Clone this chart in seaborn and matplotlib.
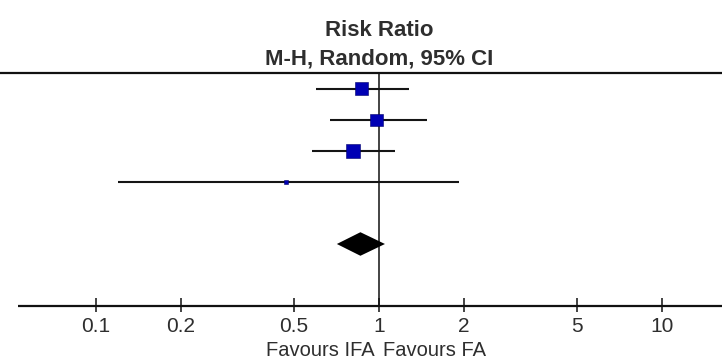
import numpy as np
import pandas as pd
import matplotlib
matplotlib.use("Agg")
import matplotlib.pyplot as plt
import seaborn as sns

# Per-study risk ratios with 95% confidence limits and weights (%)
studies = ["Study A", "Study B", "Study C", "Study D"]
risk_ratio = [0.87, 0.98, 0.81, 0.47]
ci_lower = [0.60, 0.67, 0.58, 0.12]
ci_upper = [1.28, 1.48, 1.14, 1.92]
weight = [29.5, 29.0, 38.5, 3.0]

# Pooled random-effects estimate
pooled_rr = 0.86
pooled_lower = 0.71
pooled_upper = 1.05

tick_values = [0.1, 0.2, 0.5, 1, 2, 5, 10]
tick_labels = ["0.1", "0.2", "0.5", "1", "2", "5", "10"]
header_lines = ["Risk Ratio", "M-H, Random, 95% CI"]
favours_left = "Favours IFA"
favours_right = "Favours FA"

sns.set_style("white")
plt.rcParams["font.family"] = ["Liberation Sans", "DejaVu Sans"]

text_color = "#2e2e2e"
square_color = "#0000b4"

df = pd.DataFrame({
    "study": studies,
    "rr": risk_ratio,
    "lo": ci_lower,
    "hi": ci_upper,
    "weight": weight,
    "row": np.arange(len(studies), dtype=float),
})
pooled_row = len(studies) + 1.0
axis_row = len(studies) + 3.0

fig = plt.figure(figsize=(7.22, 3.63), dpi=100)
ax = fig.add_axes([0, 0, 1, 1])
ax.set_xscale("log")
ax.set_xlim(0.04584, 16.29)
ax.set_ylim(8.839, -2.871)
ax.axis("off")

# Header rule and line of no effect
ax.axhline(-0.5, color="#111111", lw=1.6, zorder=2)
ax.vlines(1, -0.5, axis_row, color="#111111", lw=1.1, zorder=2)

# Confidence intervals
ax.hlines(df["row"], df["lo"], df["hi"], color="#151515", lw=1.5, zorder=3)

# Weighted study squares (area proportional to weight)
size_map = {w: w * 2.97 for w in weight}
sns.scatterplot(data=df, x="rr", y="row", size="weight", sizes=size_map,
                marker="s", color=square_color, edgecolor="#00006a",
                linewidth=0.4, legend=False, ax=ax, zorder=4)

# Pooled estimate diamond
half_h = 0.38
ax.fill([pooled_lower, pooled_rr, pooled_upper, pooled_rr],
        [pooled_row, pooled_row - half_h, pooled_row, pooled_row + half_h],
        color="black", lw=0, zorder=4)

# Bottom scale
ax.hlines(axis_row, 0.053, 16.29, color="#111111", lw=1.6, zorder=2)
ax.vlines(tick_values, axis_row - 0.26, axis_row + 0.2, color="#111111",
          lw=1.1, zorder=2)
for v, lab in zip(tick_values, tick_labels):
    ax.text(v, axis_row + 0.85, lab, ha="center", va="baseline",
            fontsize=15, color=text_color)

ax.text(0.965, axis_row + 1.6, favours_left, ha="right", va="baseline",
        fontsize=14.5, color=text_color)
ax.text(1.035, axis_row + 1.6, favours_right, ha="left", va="baseline",
        fontsize=14.5, color=text_color)

# Column header
ax.text(1, -1.71, header_lines[0], ha="center", va="baseline",
        fontsize=16, fontweight="bold", color=text_color)
ax.text(1, -0.78, header_lines[1], ha="center", va="baseline",
        fontsize=16, fontweight="bold", color=text_color)

fig.savefig("out.png", dpi=100)
